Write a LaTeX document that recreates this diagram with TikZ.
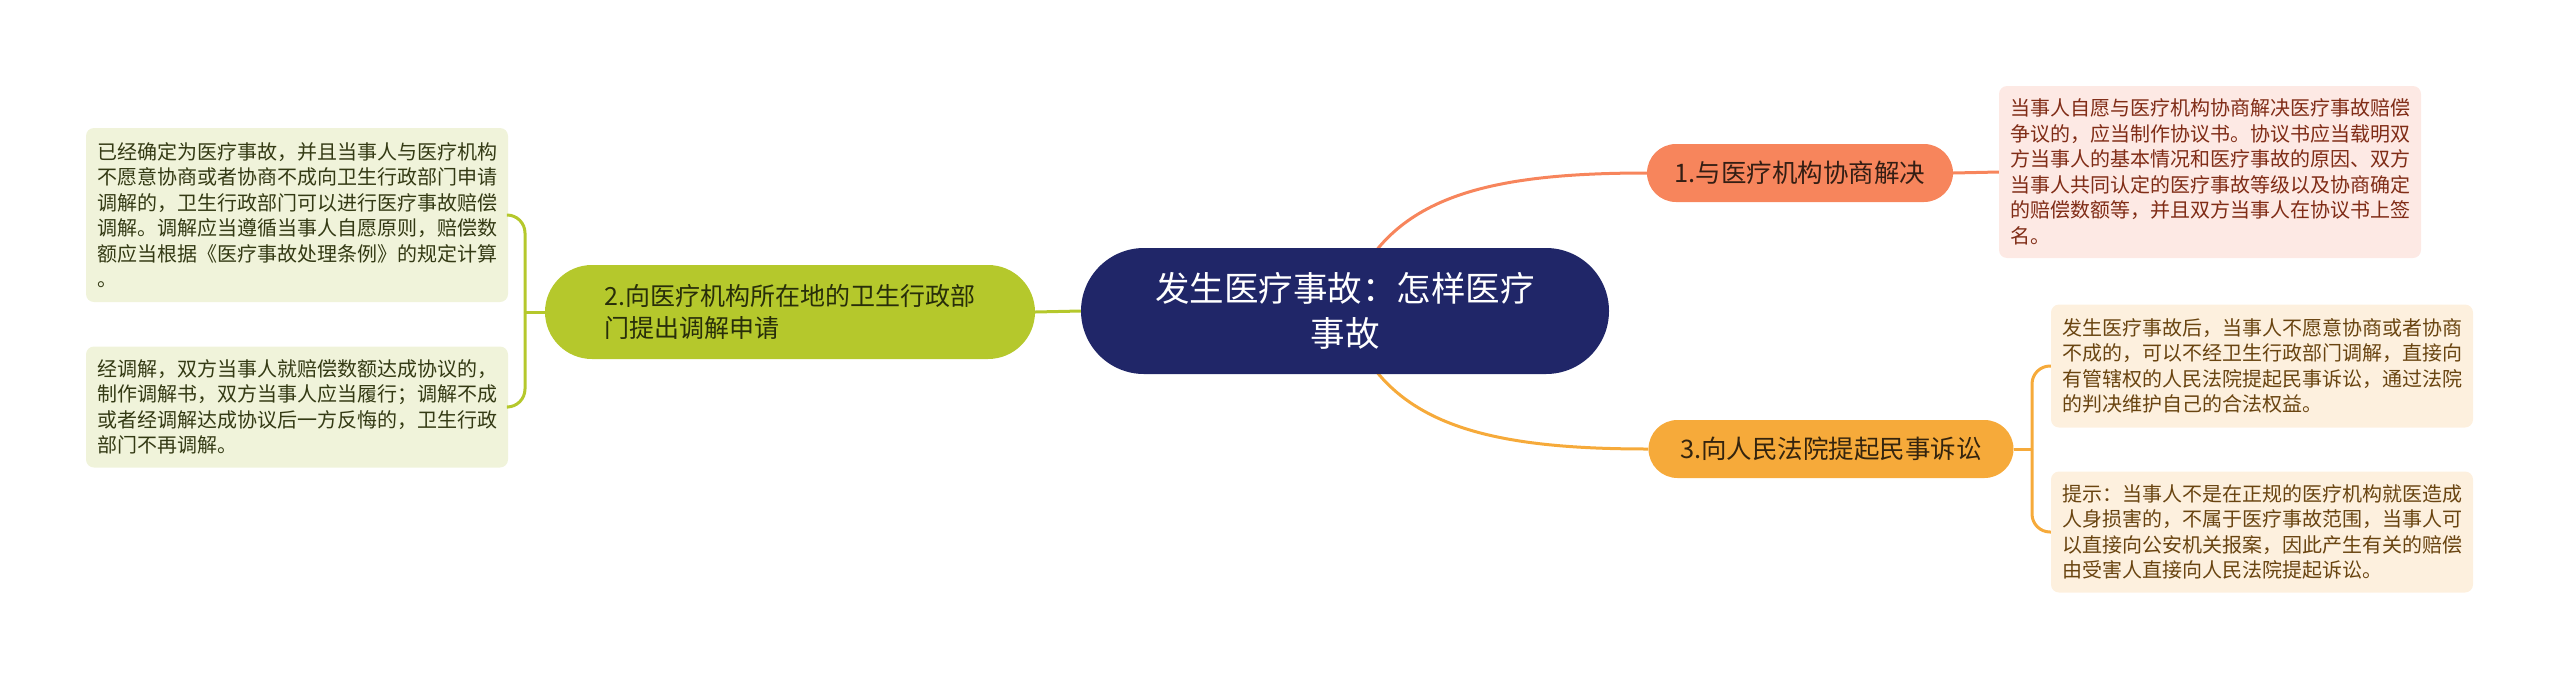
\documentclass[tikz,border=0pt]{standalone}
\usepackage{fontspec}
\usetikzlibrary{backgrounds}
\newfontfamily\cjk{Noto Sans CJK SC}
\definecolor{rootBlue}{RGB}{32,38,104}
\definecolor{coral}{RGB}{247,133,92}
\definecolor{amber}{RGB}{246,170,58}
\definecolor{lime}{RGB}{181,200,44}
\definecolor{pinkBg}{RGB}{253,233,228}
\definecolor{pinkFg}{RGB}{128,44,22}
\definecolor{sandBg}{RGB}{253,240,222}
\definecolor{sandFg}{RGB}{105,68,16}
\definecolor{mossBg}{RGB}{240,243,218}
\definecolor{mossFg}{RGB}{52,58,20}

\begin{document}
\begin{tikzpicture}
[x=1pt,y=-1pt,
  rootDecorate/.style={shape=rectangle,rounded corners=63pt,fill=rootBlue,text=white,
    minimum width=528pt,minimum height=126pt,align=center,
    font=\cjk\fontsize{34.5}{45}\selectfont},%
  topicDecorate/.style={shape=rectangle,rounded corners=29pt,minimum height=58pt,
    font=\cjk\fontsize{25.5}{32}\selectfont},%
  leafDecorate/.style={shape=rectangle,rounded corners=8pt,align=left,inner sep=0pt,
    minimum width=422pt,font=\cjk\fontsize{20}{25.5}\selectfont},%
  lineDecorate/.style={-,line width=3pt}]
\useasboundingbox (0,0) rectangle (2560,681);
%% main topic
\node (root) at (1345,311) [rootDecorate] {发生医疗事故：怎样医疗\\事故};
%% subtopics
\node (t1) at (1800,173) [topicDecorate,fill=coral,text={rgb,255:red,52;green,30;blue,20},
  minimum width=306pt] {1.与医疗机构协商解决};
\node (t3) at (1831,449) [topicDecorate,fill=amber,text={rgb,255:red,52;green,36;blue,14},
  minimum width=365pt] {3.向人民法院提起民事诉讼};
\node (t2) at (790,312) [topicDecorate,fill=lime,text={rgb,255:red,40;green,46;blue,10},
  rounded corners=47pt,minimum width=490pt,minimum height=94pt,align=left,
  font=\cjk\fontsize{25}{32}\selectfont] {2.向医疗机构所在地的卫生行政部\\门提出调解申请};
%% leaves
\foreach \nodename/\x/\y/\h/\fc/\tc/\txt in {%
  l1/2210/172/172/pinkBg/pinkFg/{当事人自愿与医疗机构协商解决医疗事故赔偿\\争议的，应当制作协议书。协议书应当载明双\\方当事人的基本情况和医疗事故的原因、双方\\当事人共同认定的医疗事故等级以及协商确定\\的赔偿数额等，并且双方当事人在协议书上签\\名。},
  l3a/2262/366/123/sandBg/sandFg/{发生医疗事故后，当事人不愿意协商或者协商\\不成的，可以不经卫生行政部门调解，直接向\\有管辖权的人民法院提起民事诉讼，通过法院\\的判决维护自己的合法权益。},
  l3b/2262/532/121/sandBg/sandFg/{提示：当事人不是在正规的医疗机构就医造成\\人身损害的，不属于医疗事故范围，当事人可\\以直接向公安机关报案，因此产生有关的赔偿\\由受害人直接向人民法院提起诉讼。},
  l2a/297/215/174/mossBg/mossFg/{已经确定为医疗事故，并且当事人与医疗机构\\不愿意协商或者协商不成向卫生行政部门申请\\调解的，卫生行政部门可以进行医疗事故赔偿\\调解。调解应当遵循当事人自愿原则，赔偿数\\额应当根据《医疗事故处理条例》的规定计算\\。},
  l2b/297/407/121/mossBg/mossFg/{经调解，双方当事人就赔偿数额达成协议的，\\制作调解书，双方当事人应当履行；调解不成\\或者经调解达成协议后一方反悔的，卫生行政\\部门不再调解。}} {
  \node (\nodename) at (\x,\y) [leafDecorate,minimum height=\h pt,fill=\fc,text=\tc] {\txt};
}
\coordinate (j3) at (2032,449);
\coordinate (j2) at (525,312);
%% edges or lines
\begin{scope}[on background layer]
\draw[lineDecorate,coral] (root.center) .. controls +(35,-111) and +(-170,0) .. (t1.west);
\draw[lineDecorate,amber] (root.center) .. controls +(35,111) and +(-170,0) .. (t3.west);
\draw[lineDecorate,lime] (t2.east) -- (root.west);
\end{scope}
\draw[lineDecorate,coral] (t1.east) -- (l1.west);
\draw[lineDecorate,amber] (t3.east) -- (j3);
\draw[lineDecorate,amber,rounded corners=18pt] (j3) |- (l3a.west);
\draw[lineDecorate,amber,rounded corners=18pt] (j3) |- (l3b.west);
\draw[lineDecorate,lime] (t2.west) -- (j2);
\draw[lineDecorate,lime,rounded corners=18pt] (j2) |- (l2a.east);
\draw[lineDecorate,lime,rounded corners=18pt] (j2) |- (l2b.east);
\end{tikzpicture}
\end{document}
